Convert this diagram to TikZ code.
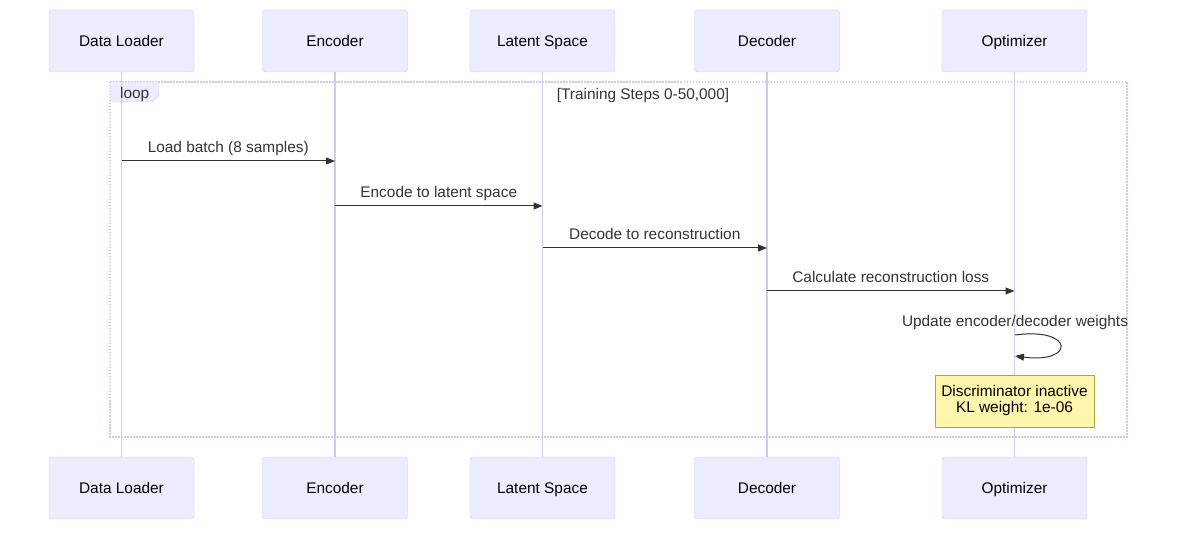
\documentclass[tikz,border=0pt]{standalone}
\usepackage{fontspec}
\setmainfont{Liberation Sans}
\usetikzlibrary{arrows.meta,positioning}
\definecolor{actfill}{HTML}{ECECFF}
\definecolor{actline}{HTML}{D2C8F2}
\definecolor{txtgray}{HTML}{333333}
\definecolor{notefill}{HTML}{FFF5AD}
\definecolor{noteline}{HTML}{AAAA33}
\newcommand{\msgfont}{\fontsize{15.4}{17}\selectfont}
\begin{document}
\begin{tikzpicture}[x=1pt,y=-1pt,
    actor/.style={draw=actline,fill=actfill,rounded corners=3pt,minimum width=145pt,minimum height=62pt,font=\msgfont,text=black,text height=14pt,text depth=3pt},
    life/.style={draw=actline,line width=1.4pt},
    frame/.style={draw=actline,line width=1.5pt,dash pattern=on 1.5pt off 1.5pt},
    msg/.style={draw=txtgray,line width=1pt,-{Triangle[length=9pt,width=7pt]}},
    lbl/.style={font=\msgfont,text=txtgray,text height=11pt,text depth=3.5pt,inner sep=2pt},
    note/.style={draw=noteline,fill=notefill,minimum width=159pt,minimum height=52pt,align=center,font=\msgfont,text=black,inner sep=2pt}]
  \useasboundingbox (0,0) rectangle (1184,534);
  % loop frame
  \draw[frame] (110,82) rectangle (1127,437);
  \draw[draw=actline,fill=actfill] (110,82) -- (159,82) -- (159,95) -- (152,102) -- (110,102) -- cycle;
  % participants
  \foreach \n/\x/\t in {dl/121.5/Data Loader,enc/335/Encoder,lat/542.5/Latent Space,dec/767/Decoder,opt/1014.5/Optimizer}{
    \node[actor] (\n T) at (\x,41) {\t};
    \node[actor] (\n B) at (\x,488) {\t};
    \draw[life] (\n T.south) -- (\n B.north);
  }
  \node[lbl,anchor=west] (looptag) at (118,95) {loop};
  \node[lbl] (loopcond) at (643,96) {[Training Steps 0-50,000]};
  % messages
  \coordinate (m1) at (0,161);
  \coordinate (m2) at (0,206);
  \coordinate (m3) at (0,248);
  \coordinate (m4) at (0,291);
  \draw[msg] (dlT |- m1) -- node[lbl,above=2pt] {Load batch (8 samples)} (encT |- m1);
  \draw[msg] (encT |- m2) -- node[lbl,above=2pt] {Encode to latent space} (latT |- m2);
  \draw[msg] (latT |- m3) -- node[lbl,above=2pt] {Decode to reconstruction} (decT |- m3);
  \draw[msg] (decT |- m4) -- node[lbl,above=2pt] {Calculate reconstruction loss} (optT |- m4);
  \coordinate (s1) at (1015,335);
  \coordinate (s2) at (1015,356);
  \node[lbl] (selfmsg) at (1015,323) {Update encoder/decoder weights};
  \draw[msg] (s1) .. controls (1075,327) and (1075,364) .. (s2);
  \node[note] (kl) at (1014.5,401) {Discriminator inactive\\[-1pt]KL weight: 1e-06};
\end{tikzpicture}
\end{document}
